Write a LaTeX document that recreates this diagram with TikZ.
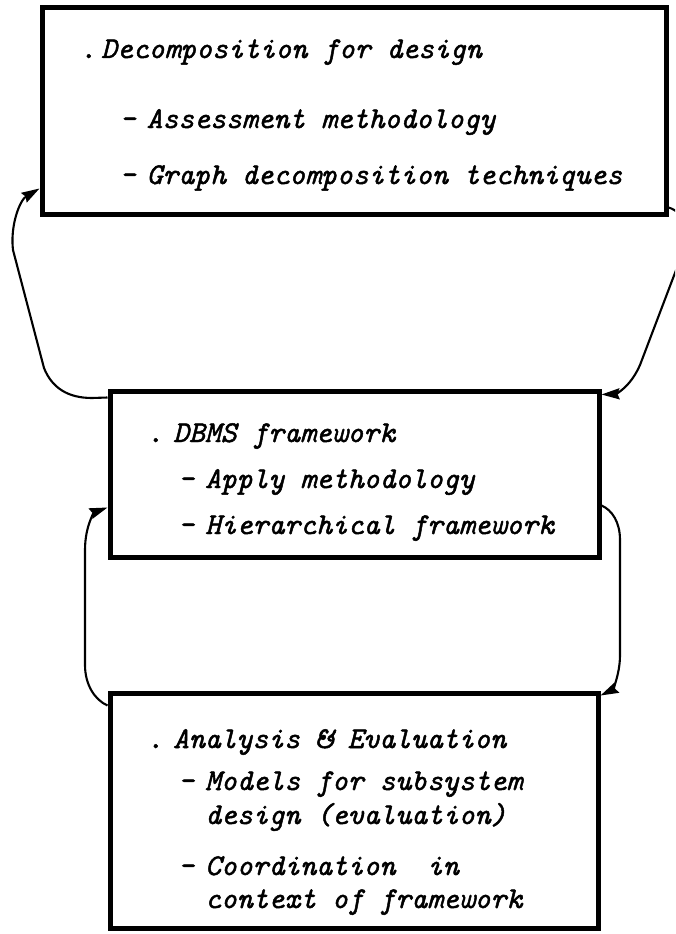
\documentclass[tikz,border=0pt]{standalone}
\usepackage{fontspec}
\setmonofont[FakeBold=1.6]{Latin Modern Mono}
\usetikzlibrary{arrows.meta}

\begin{document}
\begin{tikzpicture}[x=1pt,y=-1pt,
  box/.style={draw, line width=5pt, rectangle, inner sep=0pt},
  link/.style={line width=2.1pt, -{Stealth[length=18pt,width=11pt,inset=2pt]}},
  txt/.style={anchor=base west, inner sep=0pt, font=\ttfamily\itshape\fontsize{30.2}{32}\selectfont},
]
\fill[white] (0,0) rectangle (675,934);
\useasboundingbox (0,0) rectangle (675,934);
\clip (0,0) rectangle (675,934);

% three boxes
\node[box, minimum width=624pt, minimum height=206pt] (b1) at (354,111) {};
\node[box, minimum width=489pt, minimum height=166pt] (b2) at (354.5,474) {};
\node[box, minimum width=488pt, minimum height=235pt] (b3) at (354,810.5) {};

% box 1 text
\node[txt] (t11) at (101,58)    {\llap{.\hspace{5pt}}Decomposition for design};
\node[txt] (t12) at (146.5,128) {\llap{-\hspace{11pt}}Assessment methodology};
\node[txt] (t13) at (146.5,184) {\llap{-\hspace{11pt}}Graph decomposition techniques};

% box 2 text
\node[txt] (t21) at (173,442) {\llap{.\hspace{10pt}}DBMS framework};
\node[txt] (t22) at (205,488) {\llap{-\hspace{11pt}}Apply methodology};
\node[txt] (t23) at (205,534) {\llap{-\hspace{11pt}}Hierarchical framework};

% box 3 text
\node[txt] (t31) at (173,748) {\llap{.\hspace{10pt}}Analysis \& Evaluation};
\node[txt] (t32) at (205,790) {\llap{-\hspace{11pt}}Models for subsystem};
\node[txt] (t33) at (205,824) {design (evaluation)};
\node[txt] (t34) at (205,875) {\llap{-\hspace{11pt}}Coordination\ \ in};
\node[txt] (t35) at (205,908) {context of framework};

% feedback loops
\draw[link] ([yshift=-9pt]b2.north west) -- (92,398)
  .. controls (68,398) and (52,388) .. (44,368) -- (13,250)
  .. controls (10,225) and (20,200) .. ([yshift=28pt]b1.south west);

\draw[link] ([yshift=9pt]b1.south east)
  .. controls (685,212) and (695,235) .. (678,265) -- (640,365)
  .. controls (630,388) and (615,394) .. ([yshift=-6pt]b2.north east);

\draw[link] ([yshift=-15pt]b3.north west)
  .. controls (95,700) and (85,685) .. (85,665) -- (85,550)
  .. controls (85,525) and (95,512) .. ([yshift=52pt]b2.south west);

\draw[link] ([yshift=54pt]b2.south east)
  .. controls (612,510) and (620,522) .. (620,540) -- (620,655)
  .. controls (620,675) and (612,690) .. ([yshift=-5pt]b3.north east);
\end{tikzpicture}
\end{document}
